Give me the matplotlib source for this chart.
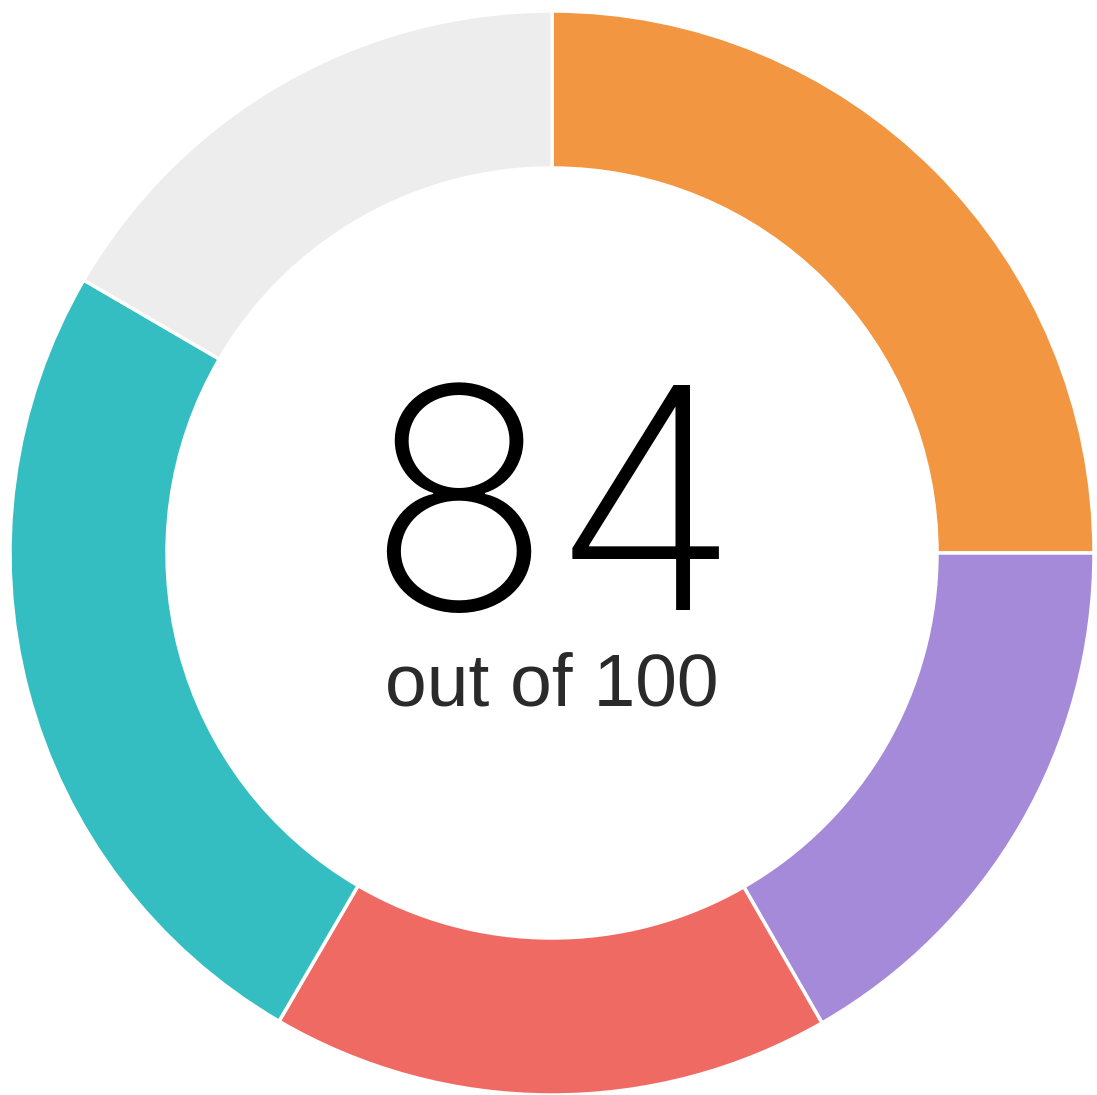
import matplotlib.pyplot as plt

# segment values (out of 100) read from the ring, clockwise from 12 o'clock
values = [25, 16.7, 16.7, 25, 16.6]
colors = ['#F39641', '#A48AD8', '#F06A64', '#35BEC1', '#EDEDED']
score = '84'
subtitle = 'out of 100'

W, H = 1097, 1095
fig = plt.figure(figsize=(W / 100, H / 100), dpi=100)
ax = fig.add_axes([0, 0, 1, 1])

cx, cy = 552, H - 553
R = 542
ring = 157

ax.pie(values, colors=colors, startangle=90, counterclock=False,
       radius=R, center=(cx, cy), frame=True,
       wedgeprops=dict(width=ring, edgecolor='white', linewidth=2.5))
ax.set_xlim(0, W)
ax.set_ylim(0, H)
ax.set_aspect('auto')
ax.axis('off')

ax.text(cx, H - 610, score, ha='center', va='baseline', fontsize=222,
        family=['Inter', 'DejaVu Sans'], fontweight='light', color='black')
ax.text(cx, H - 706, subtitle, ha='center', va='baseline', fontsize=54,
        family=['Liberation Sans', 'DejaVu Sans'], color='#2a2a2a')

fig.savefig('out.png', dpi=100)
